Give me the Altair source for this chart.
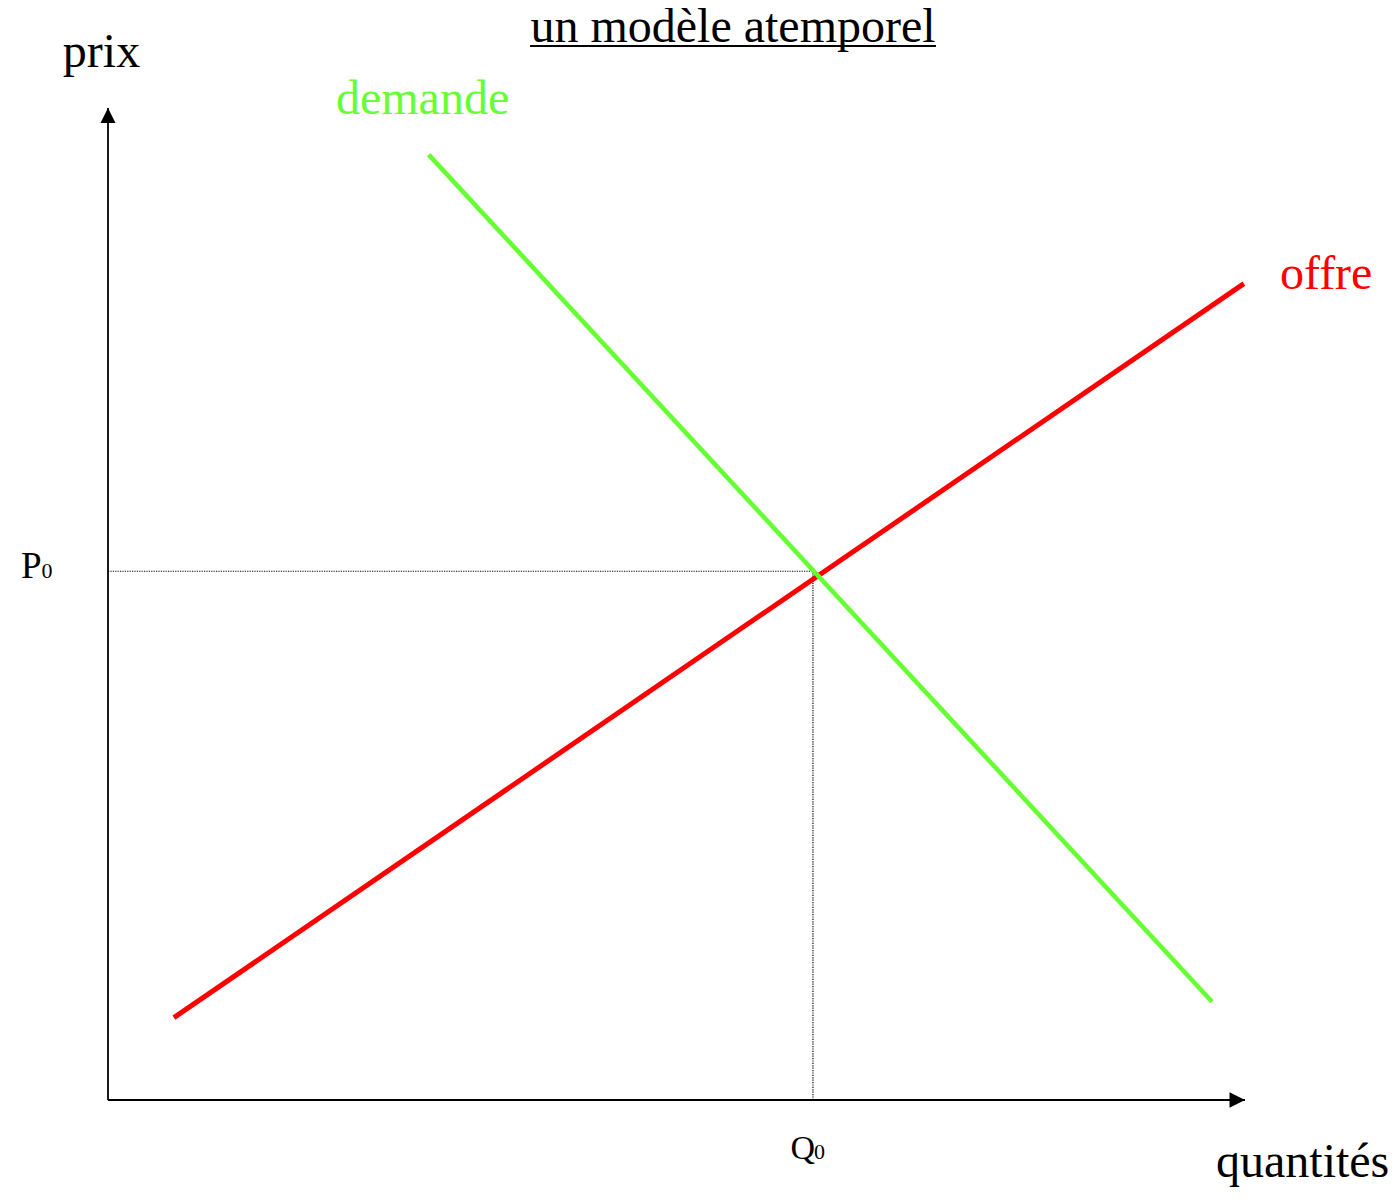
import altair as alt
import pandas as pd

# ---- values (axis units: 0..100 on both axes) ----
offre_q = [5.8, 99.9]
offre_p = [8.3, 82.3]
demande_q = [28.2, 97.1]
demande_p = [95.3, 9.9]
Q0 = 62.0
P0 = 53.3
AXIS_MAX = 100

TITLE = "un modèle atemporel"
Y_LABEL = "prix"
X_LABEL = "quantités"
DEMANDE = "demande"
OFFRE = "offre"

RED = "#FF0000"
GREEN = "#66FF33"
FONT = "Liberation Serif"

xs = alt.Scale(domain=[0, AXIS_MAX], range=[100, 1237], nice=False, zero=False)
ys = alt.Scale(domain=[0, AXIS_MAX], range=[1092, 100], nice=False, zero=False)


def X(f="x"):
    return alt.X(f"{f}:Q", scale=xs, axis=None)


def Y(f="y"):
    return alt.Y(f"{f}:Q", scale=ys, axis=None)


# axes
axes_df = pd.DataFrame({"x": [0, 0], "y": [0, 0], "x2": [AXIS_MAX, 0], "y2": [0, AXIS_MAX]})
axes = alt.Chart(axes_df).mark_rule(color="black", strokeWidth=1.8).encode(
    x=X(), y=Y(), x2="x2:Q", y2="y2:Q"
)
xarrow = alt.Chart(pd.DataFrame({"x": [AXIS_MAX], "y": [0]})).mark_point(
    shape="M0,0L-2,-1L-2,1Z", filled=True, color="black", opacity=1, size=240
).encode(x=X(), y=Y())
yarrow = alt.Chart(pd.DataFrame({"x": [0], "y": [AXIS_MAX]})).mark_point(
    shape="M0,0L-1,2L1,2Z", filled=True, color="black", opacity=1, size=225
).encode(x=X(), y=Y())

# equilibrium dotted guides
guide_df = pd.DataFrame({"x": [0, Q0], "y": [P0, 0], "x2": [Q0, Q0], "y2": [P0, P0]})
guides = alt.Chart(guide_df).mark_rule(color="black", strokeWidth=1.2, strokeDash=[1.2, 1.2]).encode(
    x=X(), y=Y(), x2="x2:Q", y2="y2:Q"
)

# supply and demand
offre = alt.Chart(pd.DataFrame({"x": offre_q, "y": offre_p})).mark_line(
    color=RED, strokeWidth=5
).encode(x=X(), y=Y())
demande = alt.Chart(pd.DataFrame({"x": demande_q, "y": demande_p})).mark_line(
    color=GREEN, strokeWidth=4.6
).encode(x=X(), y=Y())


def label(txt, xv, yv, size, color="black", align="left"):
    df = pd.DataFrame({"x": [xv], "y": [yv], "t": [txt]})
    return alt.Chart(df).mark_text(
        align=align, baseline="alphabetic", font=FONT, fontSize=size, color=color
    ).encode(x=X(), y=Y(), text="t:N")


# title underline
ul = alt.Chart(pd.DataFrame({"x": [37.12], "x2": [72.82], "y": [106.25]})).mark_rule(
    color="black", strokeWidth=2
).encode(x=X(), x2="x2:Q", y=Y())

layers = [
    axes, xarrow, yarrow, guides, offre, demande, ul,
    label(TITLE, 54.97, 106.70, 48, align="center"),
    label(Y_LABEL, -0.57, 104.13, 48, align="center"),
    label(DEMANDE, 20.05, 99.37, 48, color=GREEN),
    label(OFFRE, 103.08, 81.72, 48, color=RED),
    label(X_LABEL, 97.45, -7.73, 48),
    label("P", -7.65, 52.62, 37),
    label("0", -5.85, 52.62, 22),
    label("Q", 60.02, -5.95, 34),
    label("0", 62.10, -5.95, 22),
]

chart = alt.layer(*layers).properties(
    width=1380, height=1180, padding=0,
    autosize=alt.AutoSizeParams(type="none"),
    background="white",
).configure_view(stroke=None)

chart.save("out.html", embed_options={"renderer": "svg", "actions": False})
